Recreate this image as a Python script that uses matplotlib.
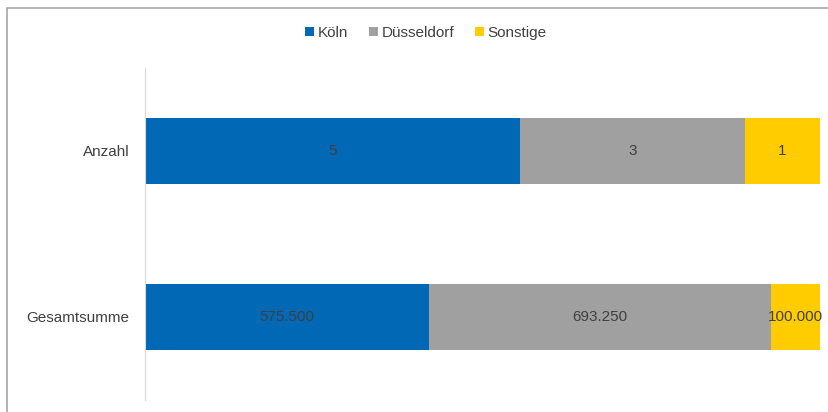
import matplotlib.pyplot as plt
import matplotlib
from matplotlib.patches import Rectangle
matplotlib.rcParams['font.family'] = ['Liberation Sans', 'DejaVu Sans']

categories = ['Gesamtsumme', 'Anzahl']
koeln = [575500, 5]
duesseldorf = [693250, 3]
sonstige = [100000, 1]
labels_koeln = ['575.500', '5']
labels_dues = ['693.250', '3']
labels_sonst = ['100.000', '1']
series_names = ['Köln', 'Düsseldorf', 'Sonstige']
colors = ['#0068B4', '#A0A0A0', '#FFCC00']

fig = plt.figure(figsize=(8.29, 4.12), dpi=100)
# grauer Rahmen links/oben
fig.patches.append(Rectangle((7/829, -0.1), 1.2, 1 - 8/412 + 0.1, transform=fig.transFigure,
                             fill=False, edgecolor='#A6A6A6', linewidth=1.2))
ax = fig.add_axes([145/829, 12/412, 675/829, 332/412])

totals = [k + d + s for k, d, s in zip(koeln, duesseldorf, sonstige)]
pk = [k / t for k, t in zip(koeln, totals)]
pd_ = [d / t for d, t in zip(duesseldorf, totals)]
ps = [s / t for s, t in zip(sonstige, totals)]
y = range(len(categories))
h = 0.40
b1 = ax.barh(y, pk, height=h, color=colors[0], label=series_names[0])
b2 = ax.barh(y, pd_, left=pk, height=h, color=colors[1], label=series_names[1])
left3 = [a + b for a, b in zip(pk, pd_)]
b3 = ax.barh(y, ps, left=left3, height=h, color=colors[2], label=series_names[2])

for bars, labs in [(b1, labels_koeln), (b2, labels_dues), (b3, labels_sonst)]:
    ax.bar_label(bars, labels=labs, label_type='center', color='#404040', fontsize=11)

ax.set_xlim(0, 1)
ax.set_ylim(-0.5, 1.5)
ax.set_yticks(list(y))
ax.set_yticklabels(categories, fontsize=11, color='#404040')
ax.set_xticks([])
ax.tick_params(axis='y', length=0, pad=11)
for s in ['top', 'right', 'bottom']:
    ax.spines[s].set_visible(False)
ax.spines['left'].set_color('#D9D9D9')

fig.legend(loc='center', bbox_to_anchor=(426/829, 1 - 33/412), ncol=3, frameon=False,
           fontsize=11, handlelength=0.55, handleheight=0.55, handletextpad=0.25,
           columnspacing=1.4, labelcolor='#404040')

plt.savefig('out.png', dpi=100)
